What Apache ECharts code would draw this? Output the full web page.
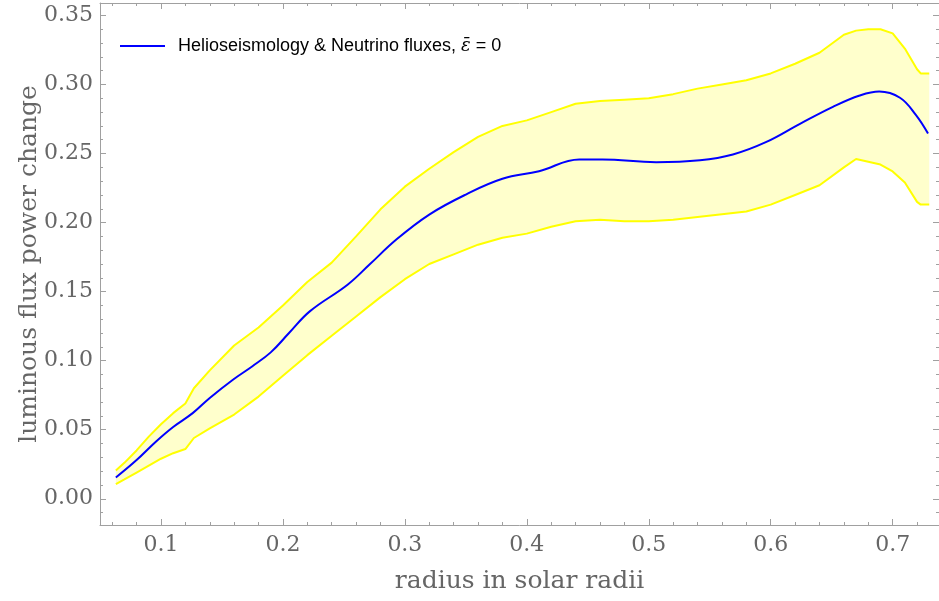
<!DOCTYPE html>
<html>
<head>
<meta charset="utf-8">
<script src="https://cdn.jsdelivr.net/npm/echarts@6/dist/echarts.min.js"></script>
<style>
  html, body { margin: 0; padding: 0; background: #fff; }
  #chart { width: 939px; height: 601px; }
</style>
</head>
<body>
<div id="chart"></div>
<script>
// radius grid for the uncertainty band
var bandRadius = [0.063, 0.07, 0.08, 0.09, 0.10, 0.11, 0.12, 0.127, 0.14, 0.16, 0.18, 0.20, 0.22, 0.24, 0.26, 0.28,
  0.30, 0.32, 0.34, 0.36, 0.38, 0.40, 0.42, 0.44, 0.46, 0.48, 0.50, 0.52, 0.54, 0.56, 0.58, 0.60, 0.62, 0.64,
  0.66, 0.67, 0.68, 0.69, 0.70, 0.71, 0.72, 0.723, 0.73]
var bandUpper = [0.0205, 0.026, 0.035, 0.045, 0.054, 0.062, 0.069, 0.080, 0.093, 0.111, 0.124, 0.140, 0.157, 0.171, 0.190, 0.2096,
  0.226, 0.239, 0.251, 0.262, 0.270, 0.274, 0.280, 0.286, 0.288, 0.289, 0.290, 0.293, 0.297, 0.300, 0.303, 0.308, 0.315, 0.323,
  0.336, 0.339, 0.340, 0.340, 0.337, 0.326, 0.311, 0.308, 0.308]
var bandLower = [0.0106, 0.014, 0.019, 0.024, 0.029, 0.033, 0.036, 0.044, 0.051, 0.061, 0.074, 0.089, 0.104, 0.118, 0.132, 0.146,
  0.159, 0.170, 0.177, 0.184, 0.189, 0.192, 0.197, 0.201, 0.202, 0.201, 0.201, 0.202, 0.204, 0.206, 0.208, 0.213, 0.220, 0.227,
  0.240, 0.246, 0.244, 0.242, 0.237, 0.229, 0.215, 0.213, 0.213]

// central curve
var curveRadius = [0.063, 0.08, 0.096, 0.11, 0.126, 0.14, 0.159, 0.175, 0.19, 0.205, 0.222, 0.253, 0.271, 0.293, 0.32,
  0.35, 0.38, 0.41, 0.443, 0.462, 0.506, 0.542, 0.569, 0.596, 0.624, 0.651, 0.673, 0.689, 0.706, 0.719, 0.729]
var curveValue = [0.0154, 0.028, 0.0415, 0.052, 0.062, 0.073, 0.0862, 0.096, 0.106, 0.12, 0.1357, 0.155, 0.1696, 0.1877, 0.2058,
  0.2203, 0.2317, 0.2372, 0.2457, 0.2457, 0.2437, 0.2451, 0.2493, 0.2582, 0.2715, 0.2838, 0.292, 0.2949, 0.2904, 0.278, 0.2645]

var xTicks = [0.1, 0.2, 0.3, 0.4, 0.5, 0.6, 0.7]
var yTicks = [0, 0.05, 0.10, 0.15, 0.20, 0.25, 0.30, 0.35]

var seriesName = 'Helioseismology & Neutrino fluxes, ε̄ = 0'

var xMinor = []
for (var i = 3; i <= 36; i++) {
  if ((i * 2) % 10 !== 0) xMinor.push(i * 2 / 100)
}
var yMinor = []
for (var j = -1; j <= 35; j++) {
  if (j % 5 !== 0) yMinor.push(j / 100)
}

function zip(a, b) {
  return a.map(function (v, k) { return [v, b[k]] })
}

var frameColor = '#a0a0a0'
var labelFont = { fontFamily: 'DejaVu Serif', fontSize: 22, color: '#666' }
var titleFont = { fontFamily: 'DejaVu Serif', fontSize: 25, color: '#666' }
var xRange = { min: 0.05, max: 0.738 }
var yRange = { min: -0.019, max: 0.359 }

function axis(pos, gridIndex, ticks, len, showLine, labels, range) {
  var a = {
    type: 'value',
    gridIndex: gridIndex,
    position: pos,
    min: range.min,
    max: range.max,
    z: 5,
    splitLine: { show: false },
    axisLine: { show: showLine, onZero: false, lineStyle: { color: frameColor, width: 1 } },
    axisTick: { show: true, inside: true, length: len, customValues: ticks, lineStyle: { color: frameColor, width: 1 } },
    axisLabel: { show: false }
  }
  if (labels) {
    a.axisLabel = Object.assign({ show: true, customValues: ticks, formatter: labels }, labelFont)
  }
  return a
}

var xMain = axis('bottom', 0, xTicks, 6, true, function (v) { return v.toFixed(1) }, xRange)
xMain.axisLabel.margin = 9
xMain.name = 'radius in solar radii'
xMain.nameLocation = 'middle'
xMain.nameGap = 44
xMain.nameMoveOverlap = false
xMain.nameTextStyle = titleFont

var yMain = axis('left', 0, yTicks, 6, true, function (v) { return v.toFixed(2) }, yRange)
yMain.axisLabel.margin = 7
yMain.name = 'luminous flux power change'
yMain.nameLocation = 'middle'
yMain.nameGap = 58
yMain.nameMoveOverlap = false
yMain.nameTextStyle = titleFont

// light yellow band between the two limits, placed through the axes
function renderBand(params, api) {
  if (params.dataIndex !== 0) return null
  var pts = []
  for (var k = 0; k < bandRadius.length; k++) pts.push(api.coord([bandRadius[k], bandUpper[k]]))
  for (var m = bandRadius.length - 1; m >= 0; m--) pts.push(api.coord([bandRadius[m], bandLower[m]]))
  return {
    type: 'polygon',
    shape: { points: pts },
    style: { fill: '#ffffcc' }
  }
}

var chart = echarts.init(document.getElementById('chart'))
var gridBox = { left: 100, right: 0, top: 3, bottom: 76 }

chart.setOption({
  animation: false,
  backgroundColor: '#fff',
  grid: [Object.assign({}, gridBox), Object.assign({}, gridBox)],
  legend: {
    data: [{ name: seriesName, icon: 'rect' }],
    left: 120,
    top: 37,
    padding: 0,
    itemWidth: 45,
    itemHeight: 2,
    formatter: function () {
      return '{t|Helioseismology & Neutrino fluxes, }{e|ε̄}{t| = 0}'
    },
    textStyle: {
      padding: [0, 0, 0, 8],
      rich: {
        t: { fontFamily: 'Liberation Sans', fontSize: 18, color: '#000' },
        e: { fontFamily: 'DejaVu Serif', fontSize: 18, fontStyle: 'italic', color: '#000' }
      }
    }
  },
  xAxis: [
    xMain,
    axis('top', 0, xTicks, 6, true, null, xRange),
    axis('bottom', 1, xMinor, 3, false, null, xRange),
    axis('top', 1, xMinor, 3, false, null, xRange)
  ],
  yAxis: [
    yMain,
    axis('right', 0, yTicks, 6, true, null, yRange),
    axis('left', 1, yMinor, 3, false, null, yRange),
    axis('right', 1, yMinor, 3, false, null, yRange)
  ],
  series: [
    {
      name: 'band',
      type: 'custom',
      xAxisIndex: 0,
      yAxisIndex: 0,
      renderItem: renderBand,
      data: zip(bandRadius, bandUpper),
      clip: true,
      silent: true
    },
    {
      name: 'upper',
      type: 'line',
      xAxisIndex: 0,
      yAxisIndex: 0,
      symbol: 'none',
      data: zip(bandRadius, bandUpper),
      lineStyle: { color: '#ffff00', width: 2 }
    },
    {
      name: 'lower',
      type: 'line',
      xAxisIndex: 0,
      yAxisIndex: 0,
      symbol: 'none',
      data: zip(bandRadius, bandLower),
      lineStyle: { color: '#ffff00', width: 2 }
    },
    {
      name: seriesName,
      type: 'line',
      xAxisIndex: 0,
      yAxisIndex: 0,
      symbol: 'none',
      smooth: 0.4,
      data: zip(curveRadius, curveValue),
      itemStyle: { color: '#0000ff' },
      lineStyle: { color: '#0000ff', width: 2 }
    }
  ]
})
</script>
</body>
</html>
